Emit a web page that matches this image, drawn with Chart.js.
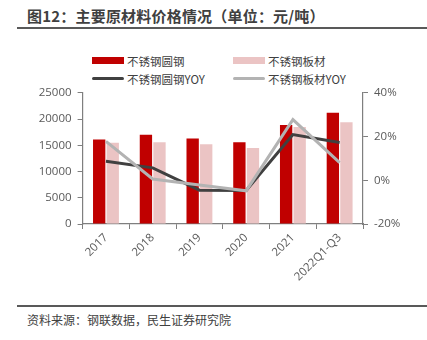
<!DOCTYPE html>
<html><head><meta charset="utf-8">
<script src="https://cdn.jsdelivr.net/npm/chart.js@4.4.0/dist/chart.umd.min.js"></script>
<style>
html,body{margin:0;padding:0;background:#fff;width:427px;height:340px;overflow:hidden;font-family:"Noto Sans CJK SC","Microsoft YaHei",sans-serif;}
#title{position:absolute;left:27px;top:5px;font-size:15px;font-weight:bold;color:#404040;white-space:nowrap;letter-spacing:0.2px;}
#tline{position:absolute;left:17px;top:27px;width:410px;height:2px;background:#595959;}
#sline{position:absolute;left:17px;top:305px;width:410px;height:1.5px;background:#595959;}
#src{position:absolute;left:27px;top:311px;font-size:12px;color:#404040;white-space:nowrap;}
.lg{position:absolute;font-size:11.5px;color:#404040;white-space:nowrap;line-height:14px;}
.sw{position:absolute;width:32px;}
#wrap{position:absolute;left:0;top:80px;width:427px;height:220px;}
</style></head><body>
<div id="title">图12：主要原材料价格情况（单位：元/吨）</div>
<div id="tline"></div>
<div id="legend"></div>
<div id="wrap"><canvas id="c"></canvas></div>
<div id="sline"></div>
<div id="src">资料来源：钢联数据，民生证券研究院</div>
<script>
const categories = ["2017","2018","2019","2020","2021","2022Q1-Q3"];
const roundBarPrice = [16100, 17000, 16300, 15600, 18900, 21200];
const sheetPrice = [15500, 15600, 15200, 14500, 18500, 19400];
const roundBarYoY = [8.7, 5.7, -4.5, -4.7, 20.9, 17.3];
const sheetYoY = [17.8, 0.6, -2.1, -4.8, 27.8, 8.1];
const leftTicks = [0, 5000, 10000, 15000, 20000, 25000];
const rightTicks = [-20, 0, 20, 40];

const names = ["不锈钢圆钢","不锈钢板材","不锈钢圆钢YOY","不锈钢板材YOY"];
const colors = ["#C00000","#EBC4C4","#404040","#B3B3B3"];

Chart.defaults.font.family = "'Open Sans', 'Noto Sans CJK SC', sans-serif";

// legend (HTML text)
const legendPos = [[92,57,7],[233,57,7],[92,75,3],[233,75,3]];
const lg = document.getElementById('legend');
names.forEach((n,i)=>{
  const [x,y,h] = legendPos[i];
  const sw = document.createElement('div');
  sw.className='sw';
  sw.style.left=x+'px'; sw.style.top=(y+3.5-h/2)+'px'; sw.style.height=h+'px';
  sw.style.background=colors[i];
  if(h<5) sw.style.borderRadius='2px';
  lg.appendChild(sw);
  const t = document.createElement('div');
  t.className='lg'; t.textContent=n;
  t.style.left=(x+35)+'px'; t.style.top=(y-3.5)+'px';
  lg.appendChild(t);
});

const tickFont = {family:"'Open Sans', 'Noto Sans CJK SC', sans-serif", size:11.5};
const axisColor = "#7F7F7F";

new Chart(document.getElementById('c'), {
  type:'bar',
  data:{
    labels:categories,
    datasets:[
      {type:'line', label:names[3], data:sheetYoY, yAxisID:'y1', borderColor:colors[3], backgroundColor:colors[3], borderWidth:3, pointRadius:0, tension:0, order:0},
      {type:'line', label:names[2], data:roundBarYoY, yAxisID:'y1', borderColor:colors[2], backgroundColor:colors[2], borderWidth:3, pointRadius:0, tension:0, order:1},
      {label:names[0], data:roundBarPrice, yAxisID:'y', backgroundColor:colors[0], categoryPercentage:0.58, barPercentage:0.91, order:2},
      {label:names[1], data:sheetPrice, yAxisID:'y', backgroundColor:colors[1], categoryPercentage:0.58, barPercentage:0.91, order:3}
    ]
  },
  options:{
    responsive:true, maintainAspectRatio:false, animation:false,
    layout:{padding:{top:10,left:0,right:0,bottom:0}},
    plugins:{legend:{display:false}, tooltip:{enabled:false}},
    scales:{
      x:{
        grid:{display:true, drawOnChartArea:false, drawTicks:true, tickLength:5, color:axisColor, offset:true},
        border:{display:true,color:axisColor,width:1.2},
        ticks:{color:"#595959", font:tickFont, minRotation:45, maxRotation:45, padding:2, autoSkip:false},
        afterFit:(s)=>{s.height=76;}
      },
      y:{
        position:'left', min:0, max:25000,
        afterBuildTicks:(s)=>{s.ticks=leftTicks.map(v=>({value:v}));},
        grid:{display:true, drawOnChartArea:false, drawTicks:true, tickLength:5, color:axisColor},
        border:{display:true,color:axisColor,width:1.2},
        ticks:{color:"#595959", font:tickFont, padding:6, callback:(v)=>String(v)},
        afterFit:(s)=>{s.width=82.6;}
      },
      y1:{
        position:'right', min:-20, max:40,
        afterBuildTicks:(s)=>{s.ticks=rightTicks.map(v=>({value:v}));},
        grid:{display:true, drawOnChartArea:false, drawTicks:true, tickLength:5, color:axisColor},
        border:{display:true,color:axisColor,width:1.2},
        ticks:{color:"#595959", font:tickFont, padding:6, callback:(v)=>v+'%'},
        afterFit:(s)=>{s.width=64;}
      }
    }
  }
});
</script>
</body></html>
